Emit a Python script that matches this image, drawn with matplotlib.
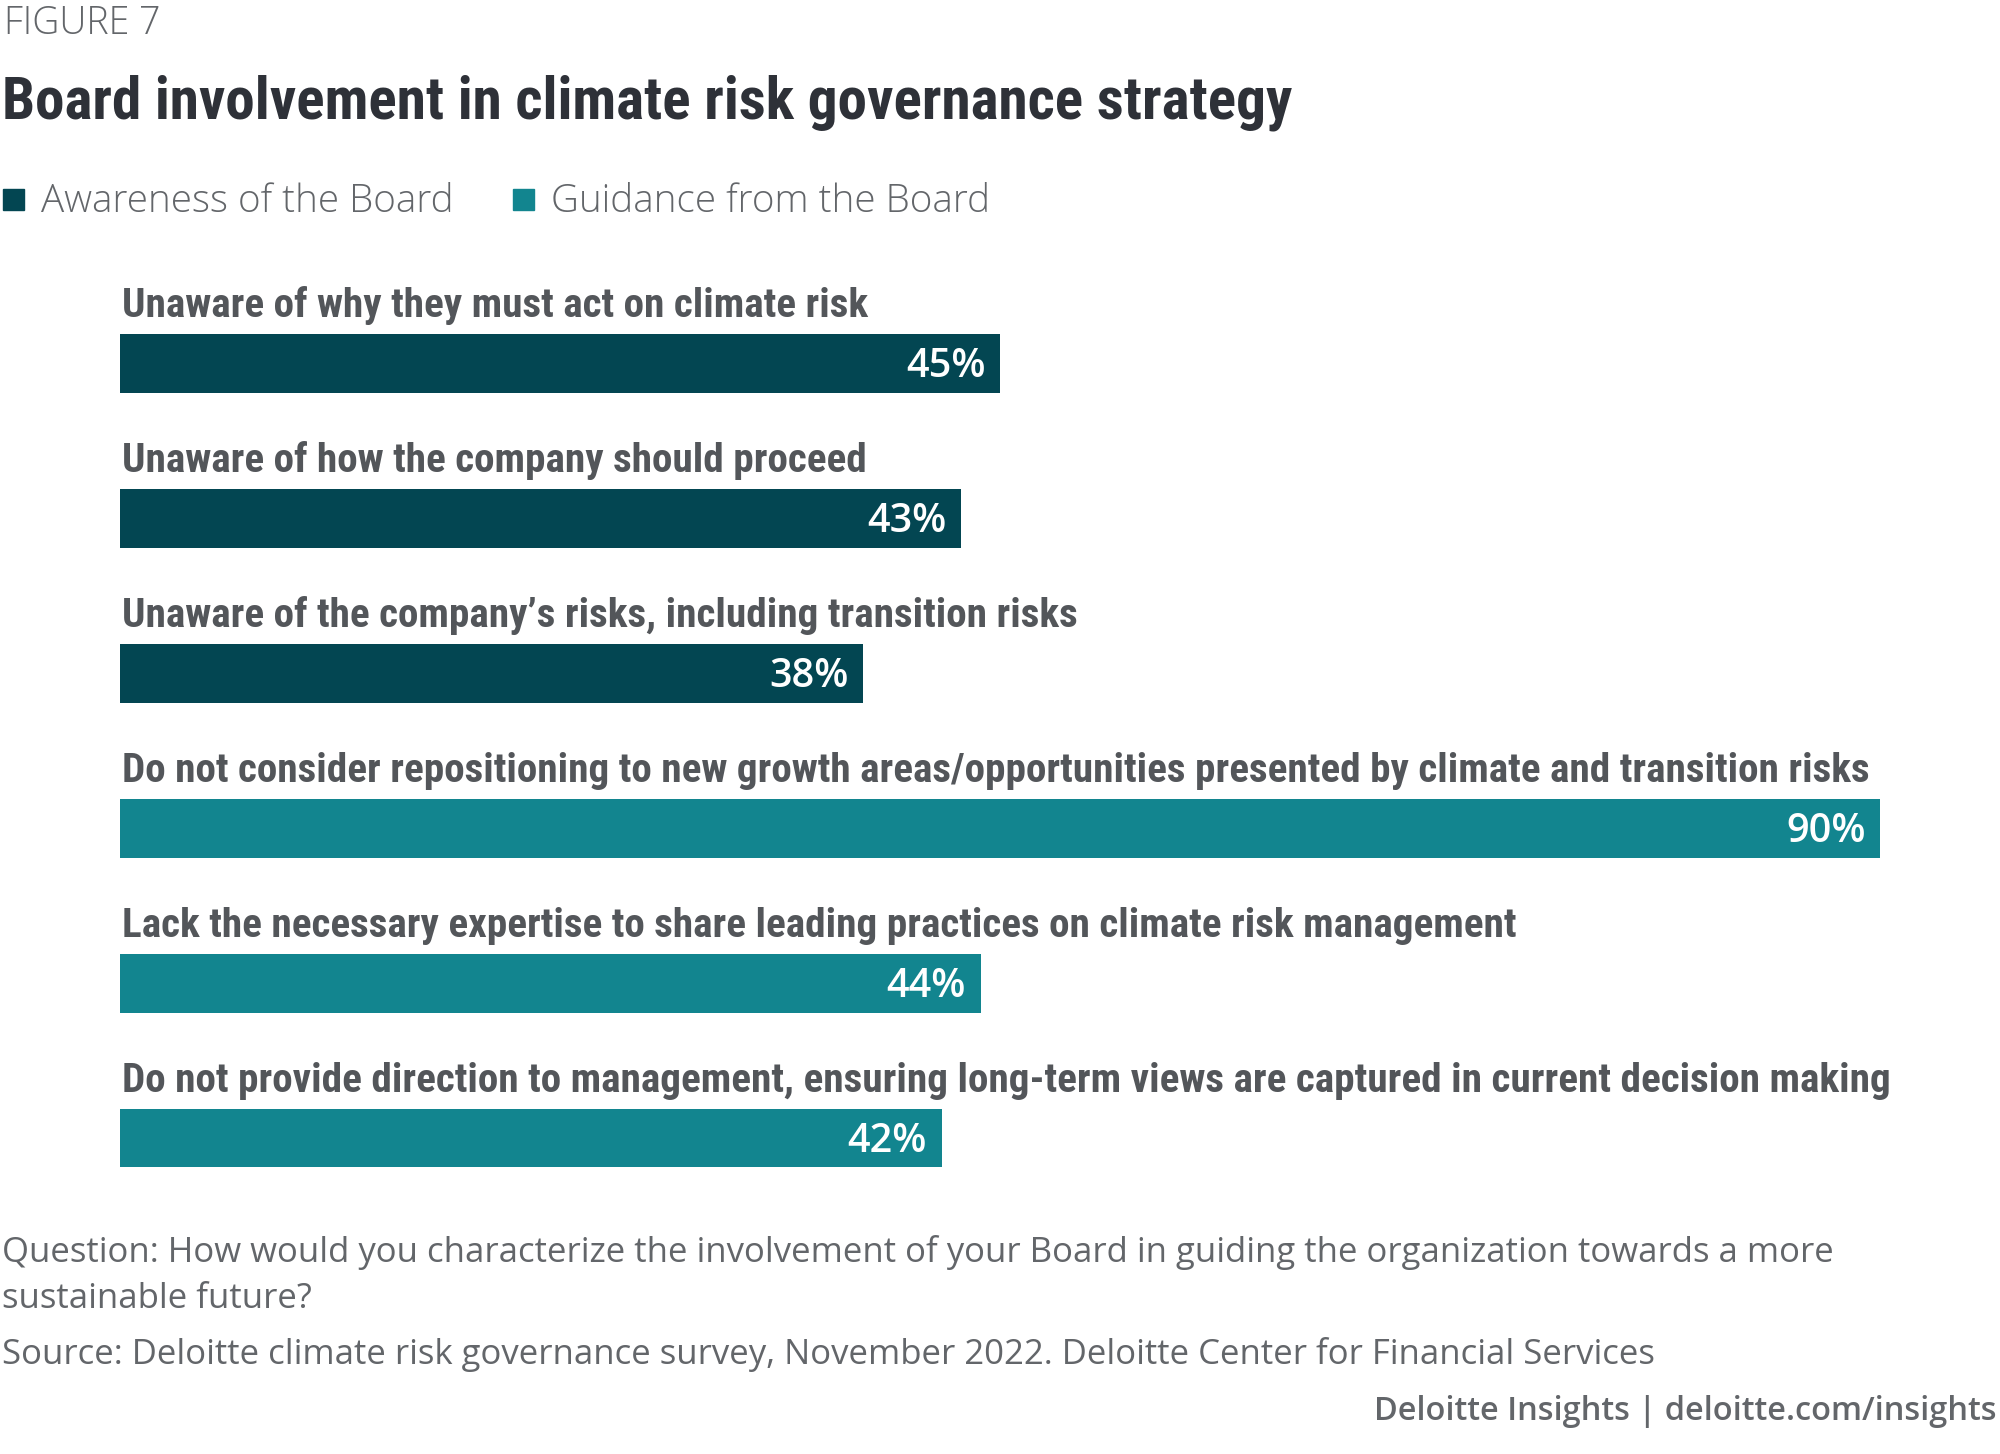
import matplotlib
matplotlib.use('Agg')
import matplotlib.pyplot as plt
from matplotlib import font_manager
from matplotlib.patches import Rectangle

labels = [
    'Unaware of why they must act on climate risk',
    'Unaware of how the company should proceed',
    "Unaware of the company\u2019s risks, including transition risks",
    'Do not consider repositioning to new growth areas/opportunities presented by climate and transition risks',
    'Lack the necessary expertise to share leading practices on climate risk management',
    'Do not provide direction to management, ensuring long-term views are captured in current decision making',
]
values = [45, 43, 38, 90, 44, 42]
groups = ['Awareness of the Board', 'Awareness of the Board', 'Awareness of the Board',
          'Guidance from the Board', 'Guidance from the Board', 'Guidance from the Board']
legend_names = ['Awareness of the Board', 'Guidance from the Board']
colors = {'Awareness of the Board': '#034652', 'Guidance from the Board': '#12858F'}

installed = set(f.name for f in font_manager.fontManager.ttflist)


def pick(prefs):
    for p in prefs:
        if p in installed:
            return p
    return 'DejaVu Sans'


narrow = pick(['Liberation Sans Narrow', 'DejaVu Sans Condensed', 'Roboto Condensed', 'Liberation Sans'])
body = pick(['Open Sans', 'Noto Sans', 'Lato', 'DejaVu Sans'])

W, H = 2000, 1454
fig = plt.figure(figsize=(20, 14.54), dpi=100)
fig.patch.set_facecolor('white')


def fx(px):
    return px / W


def fy(py):
    return 1 - py / H


grey = '#53565A'
fig.text(fx(4), fy(24), 'FIGURE 7', fontsize=27, color='#63666A', family=body,
         va='center', ha='left', fontweight='light')
fig.text(fx(2), fy(103), 'Board involvement in climate risk governance strategy', fontsize=42.6,
         color='#2E3138', family=narrow, fontweight='bold', va='center', ha='left')

# legend
lx = [3, 513]
for name, x in zip(legend_names, lx):
    fig.patches.append(Rectangle((fx(x), fy(210)), fx(21), 21 / H, transform=fig.transFigure,
                                 color=colors[name]))
    fig.text(fx(x + 38), fy(202), name, fontsize=27.8, color='#63666A', family=body,
             va='center', ha='left', fontweight='light')

# bars
px_per_unit = 19.56
ax = fig.add_axes([fx(120), 1 - 1200 / H, (W - 120) / W, 950 / H])
ypos = list(range(len(values)))
ax.barh(ypos, values, height=0.38, color=[colors[g] for g in groups])
ax.set_xlim(0, (W - 120) / px_per_unit)
ax.set_ylim(5.4, -0.732)
ax.axis('off')

for y, v, lab in zip(ypos, values, labels):
    ax.text(0.1, y - 0.30, lab, fontsize=29.6, color=grey, family=narrow, fontweight='bold',
            va='baseline', ha='left')
    ax.text(v - 0.75, y + 0.025, f'{v}%', fontsize=28.5, color='white', family=body,
            fontweight='semibold', va='center', ha='right')

# footer
foot = '#63666A'
fig.text(fx(2), fy(1253), 'Question: How would you characterize the involvement of your Board in guiding the organization towards a more',
         fontsize=25, color=foot, family=body, va='center', ha='left')
fig.text(fx(2), fy(1299), 'sustainable future?',
         fontsize=25, color=foot, family=body, va='center', ha='left')
fig.text(fx(2), fy(1355), 'Source: Deloitte climate risk governance survey, November 2022. Deloitte Center for Financial Services',
         fontsize=25, color=foot, family=body, va='center', ha='left')
fig.text(fx(1996), fy(1412), 'Deloitte Insights | deloitte.com/insights',
         fontsize=23.4, color=foot, family=body, fontweight='semibold', va='center', ha='right')

fig.savefig('out.png', dpi=100, facecolor='white')
plt.close(fig)
